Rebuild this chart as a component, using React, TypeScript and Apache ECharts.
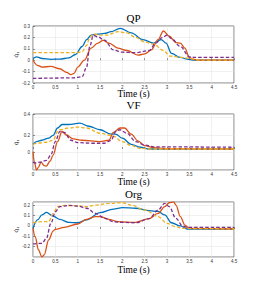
import React, { useEffect, useRef } from "react";
import * as echarts from "echarts";

const titles = ["QP", "VF", "Org"];
const xLabel = "Time (s)";
const yLabel = "q̇₁";

// QP
const qpBlueT = [0, 0.08, 0.2, 0.4, 0.6, 0.8, 0.95, 1.1, 1.2, 1.3, 1.45, 1.6, 1.75, 1.95, 2.2, 2.46, 2.7, 2.87, 2.98, 3.1, 3.3, 3.45, 3.6, 4.5];
const qpBlueY = [0.015, 0.03, 0.015, 0.008, 0.01, 0.02, 0.05, 0.12, 0.18, 0.22, 0.228, 0.235, 0.25, 0.28, 0.24, 0.18, 0.15, 0.18, 0.15, 0.06, 0.024, 0.01, 0, 0];
const qpOrangeT = [0, 0.1, 0.2, 0.4, 0.6, 0.75, 0.85, 0.92, 1.0, 1.15, 1.3, 1.45, 1.57, 1.7, 1.9, 2.1, 2.35, 2.5, 2.65, 2.8, 2.92, 3.05, 3.2, 3.3, 3.4, 3.5, 3.6, 3.7, 4.5];
const qpOrangeY = [0, -0.045, -0.06, -0.055, -0.075, -0.106, -0.127, -0.115, -0.06, 0, 0.106, 0.15, 0.175, 0.15, 0.106, 0.085, 0.045, 0.055, 0.09, 0.18, 0.256, 0.21, 0.155, 0.15, 0.106, 0.024, 0.006, 0, 0];
const qpYellowT = [0, 1.0, 1.1, 1.2, 1.27, 1.35, 1.5, 1.65, 1.9, 2.1, 2.3, 2.5, 2.7, 2.92, 3.07, 3.3, 3.5, 3.75, 4.5];
const qpYellowY = [0.066, 0.066, 0.075, 0.13, 0.2, 0.23, 0.22, 0.22, 0.25, 0.24, 0.2, 0.16, 0.14, 0.085, 0.036, 0.025, 0.015, 0, 0];
const qpPurpleT = [0, 0.9, 1.1, 1.2, 1.27, 1.35, 1.45, 1.6, 1.8, 2.0, 2.3, 2.6, 2.75, 2.9, 3.0, 3.1, 3.3, 3.5, 3.6, 4.5];
const qpPurpleY = [-0.16, -0.155, -0.145, -0.06, 0.12, 0.218, 0.205, 0.176, 0.09, 0.07, 0.066, 0.085, 0.15, 0.2, 0.22, 0.19, 0.12, 0.03, 0.025, 0.025];

// VF
const vfBlueT = [0, 0.08, 0.2, 0.35, 0.45, 0.55, 0.65, 0.8, 1.05, 1.25, 1.5, 1.75, 1.85, 2.0, 2.2, 2.4, 2.6, 4.5];
const vfBlueY = [0.054, 0.085, 0.1, 0.124, 0.156, 0.24, 0.28, 0.28, 0.295, 0.26, 0.22, 0.17, 0.17, 0.124, 0.054, 0.02, 0, 0];
const vfOrangeT = [0, 0.03, 0.08, 0.12, 0.18, 0.25, 0.3, 0.38, 0.45, 0.55, 0.65, 0.75, 0.9, 1.1, 1.5, 1.7, 1.8, 1.95, 2.05, 2.2, 2.35, 2.5, 2.7, 3.0, 4.5];
const vfOrangeY = [-0.03, -0.15, -0.24, -0.21, -0.15, -0.19, -0.195, -0.14, -0.07, 0.085, 0.2, 0.16, 0.116, 0.1, 0.085, 0.1, 0.19, 0.24, 0.24, 0.17, 0.093, 0.038, 0.015, 0.003, 0];
const vfYellowT = [0, 0.1, 0.3, 0.45, 0.55, 0.6, 0.8, 1.0, 1.2, 1.5, 1.75, 1.8, 2.0, 2.2, 2.4, 2.6, 4.5];
const vfYellowY = [0.054, 0.066, 0.077, 0.1, 0.2, 0.22, 0.24, 0.25, 0.24, 0.18, 0.156, 0.145, 0.085, 0.038, 0.008, 0, 0];
const vfPurpleT = [0, 0.05, 0.15, 0.3, 0.4, 0.5, 0.6, 0.7, 0.85, 1.0, 1.3, 1.6, 1.75, 1.85, 1.95, 2.1, 2.3, 2.5, 2.7, 4.5];
const vfPurpleY = [-0.15, -0.16, -0.15, -0.13, -0.07, 0.085, 0.2, 0.19, 0.1, 0.073, 0.066, 0.066, 0.1, 0.2, 0.22, 0.18, 0.085, 0.046, 0.025, 0.02];

// Org
const orgBlueT = [0, 0.1, 0.2, 0.3, 0.45, 0.6, 0.8, 1.0, 1.2, 1.5, 1.8, 2.0, 2.3, 2.6, 2.8, 2.95, 3.1, 3.3, 3.45, 4.5];
const orgBlueY = [0.006, 0.087, 0.135, 0.16, 0.125, 0.093, 0.064, 0.06, 0.087, 0.157, 0.192, 0.205, 0.2, 0.176, 0.17, 0.135, 0.06, 0.029, 0, 0];
const orgOrangeT = [0, 0.05, 0.12, 0.2, 0.25, 0.35, 0.45, 0.5, 0.7, 1.0, 1.2, 1.4, 1.5, 1.7, 1.9, 2.3, 2.6, 2.8, 2.95, 3.05, 3.15, 3.2, 3.3, 3.4, 3.5, 4.5];
const orgOrangeY = [0.006, -0.074, -0.2, -0.27, -0.25, -0.106, -0.02, -0.003, 0.016, 0.048, 0.093, 0.12, 0.12, 0.093, 0.07, 0.064, 0.1, 0.15, 0.215, 0.253, 0.26, 0.23, 0.12, 0.038, 0.006, 0];
const orgYellowT = [0, 0.2, 0.35, 0.45, 0.55, 0.7, 1.0, 1.2, 1.4, 1.7, 2.0, 2.2, 2.5, 2.8, 3.0, 3.2, 3.35, 4.5];
const orgYellowY = [0.06, 0.07, 0.07, 0.15, 0.215, 0.227, 0.224, 0.215, 0.23, 0.247, 0.253, 0.23, 0.183, 0.12, 0.054, 0.022, 0.005, 0];
const orgPurpleT = [0, 0.2, 0.3, 0.4, 0.5, 0.6, 0.8, 1.0, 1.2, 1.4, 1.6, 1.8, 2.0, 2.3, 2.6, 2.8, 2.95, 3.05, 3.2, 3.35, 3.45, 4.5];
const orgPurpleY = [-0.144, -0.138, -0.09, 0.054, 0.166, 0.215, 0.227, 0.22, 0.2, 0.15, 0.103, 0.07, 0.064, 0.06, 0.1, 0.183, 0.247, 0.215, 0.103, 0.029, 0.016, 0.016];

const yMins = [-0.2, -0.24, -0.27];
const yMaxs = [0.3, 0.4, 0.26];
const yIntervals = [0.1, 0.2, 0.1];

const BLUE = "#0072BD";
const ORANGE = "#D95319";
const YELLOW = "#EDB120";
const PURPLE = "#7E2F8E";

const zip = (t: number[], y: number[]) => t.map((v, i) => [v, y[i]]);

const panels = [
  [[qpBlueT, qpBlueY], [qpOrangeT, qpOrangeY], [qpYellowT, qpYellowY], [qpPurpleT, qpPurpleY]],
  [[vfBlueT, vfBlueY], [vfOrangeT, vfOrangeY], [vfYellowT, vfYellowY], [vfPurpleT, vfPurpleY]],
  [[orgBlueT, orgBlueY], [orgOrangeT, orgOrangeY], [orgYellowT, orgYellowY], [orgPurpleT, orgPurpleY]],
];
const colors = [BLUE, ORANGE, YELLOW, PURPLE];
const dashed = [false, false, true, true];

const gridTops = [26, 114, 202];
const gridHeights = [57, 56, 55];
const titleYs = [18, 105, 194];
const xLabelYs = [94, 182, 270];

export default function App() {
  const ref = useRef<HTMLDivElement>(null);
  useEffect(() => {
    if (!ref.current) return;
    const chart = echarts.init(ref.current, null, { renderer: "svg" });
    const serif = "Liberation Serif, DejaVu Serif, serif";
    const grids = gridTops.map((top, i) => ({
      left: 33,
      width: 201,
      top,
      height: gridHeights[i],
      show: true,
      borderColor: "#262626",
      borderWidth: 0.6,
      backgroundColor: "#fff",
    }));
    const xAxes = gridTops.map((_, i) => ({
      type: "value",
      gridIndex: i,
      min: 0,
      max: 4.5,
      interval: 0.5,
      axisLine: { show: false },
      axisTick: { show: true, inside: true, length: 2, lineStyle: { color: "#262626", width: 0.5 } },
      axisLabel: {
        fontSize: 4.5,
        color: "#333",
        margin: 1.5,
        formatter: (v: number) => String(v),
      },
      splitLine: { show: true, lineStyle: { color: "#e3e3e3", width: 0.5 } },
    }));
    const yAxes = gridTops.map((_, i) => ({
      type: "value",
      gridIndex: i,
      min: yMins[i],
      max: yMaxs[i],
      interval: yIntervals[i],
      axisLine: { show: false },
      axisTick: { show: true, inside: true, length: 2, lineStyle: { color: "#262626", width: 0.5 } },
      axisLabel: {
        fontSize: 4.5,
        color: "#333",
        margin: 3,
        showMinLabel: i === 0,
        showMaxLabel: i !== 2,
        formatter: (v: number) => String(Math.round(v * 10) / 10),
      },
      splitLine: { show: true, lineStyle: { color: "#e3e3e3", width: 0.5 } },
    }));
    const series: any[] = [];
    panels.forEach((panel, pi) => {
      panel.forEach(([t, y], si) => {
        series.push({
          type: "line",
          xAxisIndex: pi,
          yAxisIndex: pi,
          data: zip(t as number[], y as number[]),
          showSymbol: false,
          symbol: "none",
          smooth: 0.35,
          smoothMonotone: "x",
          clip: true,
          lineStyle: {
            color: colors[si],
            width: 1.3,
            type: dashed[si] ? [3.5, 2] : "solid",
          },
          z: 2 + si,
        });
      });
    });
    const graphics: any[] = [];
    titles.forEach((t, i) => {
      graphics.push({
        type: "text",
        x: 133.5,
        y: titleYs[i],
        style: {
          text: t,
          fontFamily: serif,
          fontSize: 11,
          fill: "#000",
          textAlign: "center",
          textVerticalAlign: "middle",
        },
      });
      graphics.push({
        type: "text",
        x: 133.5,
        y: xLabelYs[i],
        style: {
          text: xLabel,
          fontFamily: serif,
          fontSize: 9.5,
          fill: "#000",
          textAlign: "center",
          textVerticalAlign: "middle",
        },
      });
      graphics.push({
        type: "text",
        x: 16,
        y: gridTops[i] + gridHeights[i] / 2,
        rotation: Math.PI / 2,
        style: {
          text: yLabel,
          fontFamily: serif,
          fontSize: 7,
          fill: "#000",
          textAlign: "center",
          textVerticalAlign: "middle",
        },
      });
    });
    chart.setOption({
      animation: false,
      backgroundColor: "#fff",
      grid: grids,
      xAxis: xAxes,
      yAxis: yAxes,
      series,
      graphic: graphics,
    });
    return () => chart.dispose();
  }, []);
  return (
    <div
      ref={ref}
      style={{ position: "fixed", left: 0, top: 0, width: 258, height: 291, background: "#fff" }}
    />
  );
}
